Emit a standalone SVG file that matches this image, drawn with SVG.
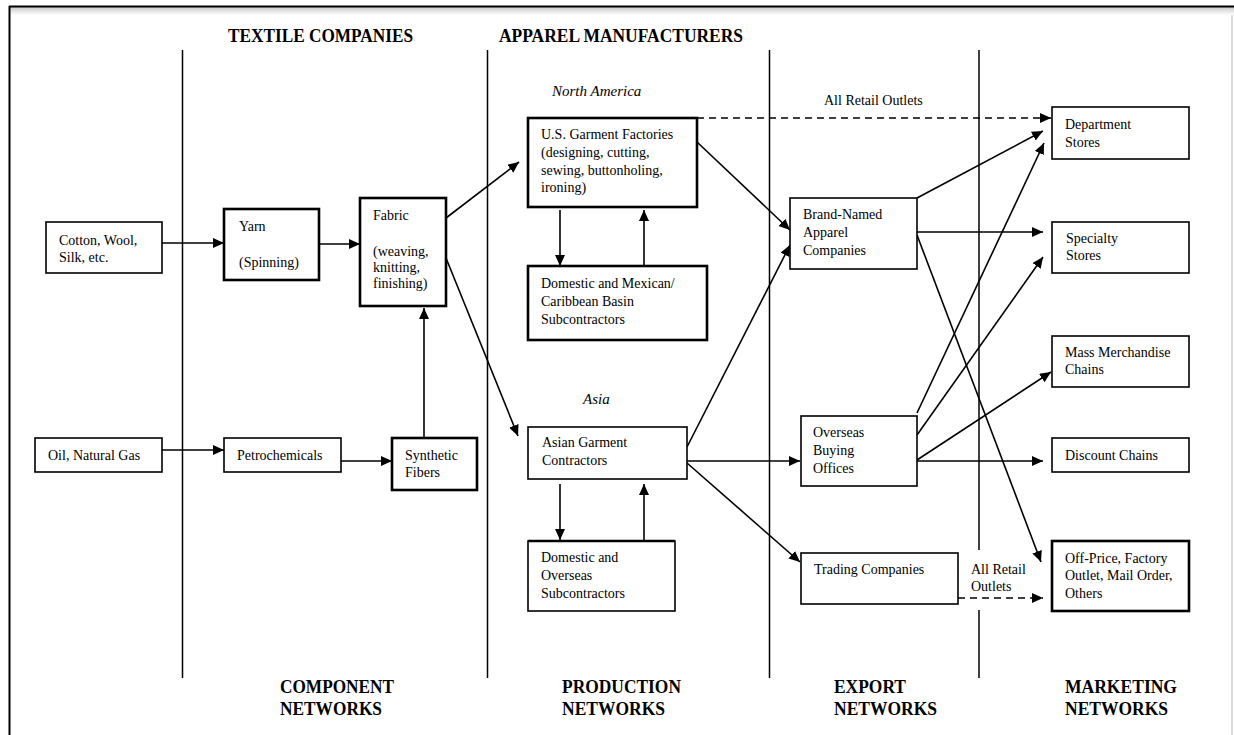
<svg xmlns="http://www.w3.org/2000/svg" width="1234" height="735" viewBox="0 0 1234 735">
<defs>
<marker id="ah" markerUnits="userSpaceOnUse" markerWidth="12" markerHeight="10" refX="11" refY="5" orient="auto">
<path d="M0,0 L11,5 L0,10 Z" fill="#000"/>
</marker>
<linearGradient id="shadow" x1="0" y1="0" x2="0" y2="1">
<stop offset="0" stop-color="#c8c8c8"/>
<stop offset="1" stop-color="#ffffff"/>
</linearGradient>
<style>
text{font-family:"Liberation Serif","Times New Roman",serif;fill:#000}
.t{font-size:14px}
.h{font-size:19px;font-weight:bold}
.i{font-size:15px;font-style:italic}
.b{fill:#fff;stroke:#000;stroke-width:1.6}
.bt{fill:#fff;stroke:#000;stroke-width:2.6}
.sep{stroke:#000;stroke-width:1.5}
.c{stroke:#000;stroke-width:1.6;fill:none;marker-end:url(#ah)}
.d{stroke:#000;stroke-width:1.6;fill:none;stroke-dasharray:7,5;marker-end:url(#ah)}
</style>
</defs>
<rect width="1234" height="735" fill="#fff"/>
<!-- frame -->
<rect x="10" y="7" width="1224" height="8" fill="url(#shadow)"/>
<line x1="1232" y1="15" x2="1232" y2="735" stroke="#dcdcdc" stroke-width="2"/>
<line x1="9" y1="6.5" x2="1234" y2="6.5" stroke="#000" stroke-width="2"/>
<line x1="9.5" y1="6" x2="9.5" y2="735" stroke="#000" stroke-width="2"/>

<!-- separators -->
<g id="separators">
<line class="sep" x1="182.5" y1="50" x2="182.5" y2="678"/>
<line class="sep" x1="487.5" y1="50" x2="487.5" y2="678"/>
<line class="sep" x1="769.5" y1="50" x2="769.5" y2="678"/>
<line class="sep" x1="979" y1="50" x2="979" y2="550"/>
<line class="sep" x1="979" y1="610" x2="979" y2="678"/>
</g>

<!-- headers -->
<g id="headers">
<text class="h" x="228" y="42" textLength="185" lengthAdjust="spacingAndGlyphs">TEXTILE COMPANIES</text>
<text class="h" x="499" y="42" textLength="244" lengthAdjust="spacingAndGlyphs">APPAREL MANUFACTURERS</text>
<text class="i" x="552" y="96">North America</text>
<text class="i" x="583" y="404">Asia</text>
<text class="h" x="280" y="693" textLength="114" lengthAdjust="spacingAndGlyphs">COMPONENT</text>
<text class="h" x="280" y="715" textLength="102" lengthAdjust="spacingAndGlyphs">NETWORKS</text>
<text class="h" x="562" y="693" textLength="119" lengthAdjust="spacingAndGlyphs">PRODUCTION</text>
<text class="h" x="562" y="715" textLength="103" lengthAdjust="spacingAndGlyphs">NETWORKS</text>
<text class="h" x="834" y="693" textLength="72" lengthAdjust="spacingAndGlyphs">EXPORT</text>
<text class="h" x="834" y="715" textLength="103" lengthAdjust="spacingAndGlyphs">NETWORKS</text>
<text class="h" x="1065" y="693" textLength="112" lengthAdjust="spacingAndGlyphs">MARKETING</text>
<text class="h" x="1065" y="715" textLength="103" lengthAdjust="spacingAndGlyphs">NETWORKS</text>
</g>

<!-- connectors -->
<g id="connectors">
<line class="c" x1="162" y1="243" x2="224" y2="243"/>
<line class="c" x1="319" y1="244" x2="360" y2="244"/>
<line class="c" x1="162" y1="450" x2="224" y2="450"/>
<line class="c" x1="341" y1="461" x2="392" y2="461"/>
<line class="c" x1="424" y1="438" x2="424" y2="308"/>
<line class="c" x1="446" y1="218" x2="519" y2="162"/>
<line class="c" x1="446" y1="258" x2="518" y2="436"/>
<line class="c" x1="560" y1="210" x2="560" y2="266"/>
<line class="c" x1="644" y1="266" x2="644" y2="210"/>
<line class="d" x1="697" y1="118" x2="1051" y2="118"/>
<line class="c" x1="697" y1="142" x2="790" y2="230"/>
<line class="c" x1="560" y1="484" x2="560" y2="540"/>
<line class="c" x1="644" y1="540" x2="644" y2="484"/>
<line class="c" x1="687" y1="447" x2="790" y2="245"/>
<line class="c" x1="687" y1="461" x2="800" y2="461"/>
<line class="c" x1="687" y1="463" x2="800" y2="562"/>
<line class="c" x1="917" y1="198" x2="1043" y2="131"/>
<line class="c" x1="917" y1="232" x2="1043" y2="232"/>
<line class="c" x1="917" y1="235" x2="1041" y2="562"/>
<line class="c" x1="917" y1="413" x2="1044" y2="143"/>
<line class="c" x1="917" y1="435" x2="1043" y2="257"/>
<line class="c" x1="917" y1="460" x2="1051" y2="372"/>
<line class="c" x1="917" y1="461" x2="1043" y2="461"/>
<line class="d" x1="958" y1="598" x2="1043" y2="598"/>
<text class="t" x="824" y="105">All Retail Outlets</text>
<text class="t" x="971" y="574">All Retail</text>
<text class="t" x="971" y="591">Outlets</text>
</g>

<!-- nodes -->
<g id="cotton"><rect class="b" x="46" y="222" width="116" height="51"/>
<text class="t" x="59" y="245">Cotton, Wool,</text><text class="t" x="59" y="262">Silk, etc.</text></g>
<g id="yarn"><rect class="bt" x="224" y="209" width="95" height="71"/>
<text class="t" x="239" y="231">Yarn</text><text class="t" x="239" y="267">(Spinning)</text></g>
<g id="fabric"><rect class="bt" x="360" y="198" width="86" height="108"/>
<text class="t" x="373" y="220">Fabric</text><text class="t" x="373" y="256">(weaving,</text><text class="t" x="373" y="272">knitting,</text><text class="t" x="373" y="288">finishing)</text></g>
<g id="oil"><rect class="b" x="35" y="438" width="127" height="34"/>
<text class="t" x="48" y="460">Oil, Natural Gas</text></g>
<g id="petro"><rect class="b" x="224" y="438" width="117" height="34"/>
<text class="t" x="237" y="460">Petrochemicals</text></g>
<g id="synthetic"><rect class="bt" x="392" y="438" width="85" height="52"/>
<text class="t" x="405" y="460">Synthetic</text><text class="t" x="405" y="477">Fibers</text></g>
<g id="usgarment"><rect class="bt" x="528" y="118" width="169" height="89"/>
<text class="t" x="541" y="139">U.S. Garment Factories</text><text class="t" x="541" y="157">(designing, cutting,</text><text class="t" x="541" y="175">sewing, buttonholing,</text><text class="t" x="541" y="192">ironing)</text></g>
<g id="domestic-mex"><rect class="bt" x="528" y="266" width="179" height="74"/>
<text class="t" x="541" y="288">Domestic and Mexican/</text><text class="t" x="541" y="306">Caribbean Basin</text><text class="t" x="541" y="324">Subcontractors</text></g>
<g id="asian"><rect class="b" x="528" y="427" width="159" height="52"/>
<text class="t" x="542" y="447">Asian Garment</text><text class="t" x="542" y="465">Contractors</text></g>
<g id="domestic-overseas"><rect class="b" x="528" y="541" width="147" height="70"/>
<line x1="528" y1="541" x2="675" y2="541" stroke="#000" stroke-width="2.6"/>
<text class="t" x="541" y="562">Domestic and</text><text class="t" x="541" y="580">Overseas</text><text class="t" x="541" y="598">Subcontractors</text></g>
<g id="brand"><rect class="b" x="790" y="198" width="127" height="71"/>
<text class="t" x="803" y="219">Brand-Named</text><text class="t" x="803" y="237">Apparel</text><text class="t" x="803" y="255">Companies</text></g>
<g id="overseas"><rect class="b" x="801" y="416" width="116" height="70"/>
<text class="t" x="813" y="437">Overseas</text><text class="t" x="813" y="455">Buying</text><text class="t" x="813" y="473">Offices</text></g>
<g id="trading"><rect class="b" x="801" y="553" width="157" height="51"/>
<text class="t" x="814" y="574">Trading Companies</text></g>
<g id="dept"><rect class="b" x="1052" y="107" width="137" height="52"/>
<text class="t" x="1065" y="129">Department</text><text class="t" x="1065" y="147">Stores</text></g>
<g id="specialty"><rect class="b" x="1052" y="222" width="137" height="51"/>
<text class="t" x="1066" y="243">Specialty</text><text class="t" x="1066" y="260">Stores</text></g>
<g id="mass"><rect class="b" x="1052" y="336" width="137" height="51"/>
<text class="t" x="1065" y="357">Mass Merchandise</text><text class="t" x="1065" y="374">Chains</text></g>
<g id="discount"><rect class="b" x="1052" y="438" width="137" height="34"/>
<text class="t" x="1065" y="460">Discount Chains</text></g>
<g id="offprice"><rect class="bt" x="1052" y="541" width="137" height="70"/>
<text class="t" x="1065" y="563">Off-Price, Factory</text><text class="t" x="1065" y="580">Outlet, Mail Order,</text><text class="t" x="1065" y="598">Others</text></g>
</svg>
